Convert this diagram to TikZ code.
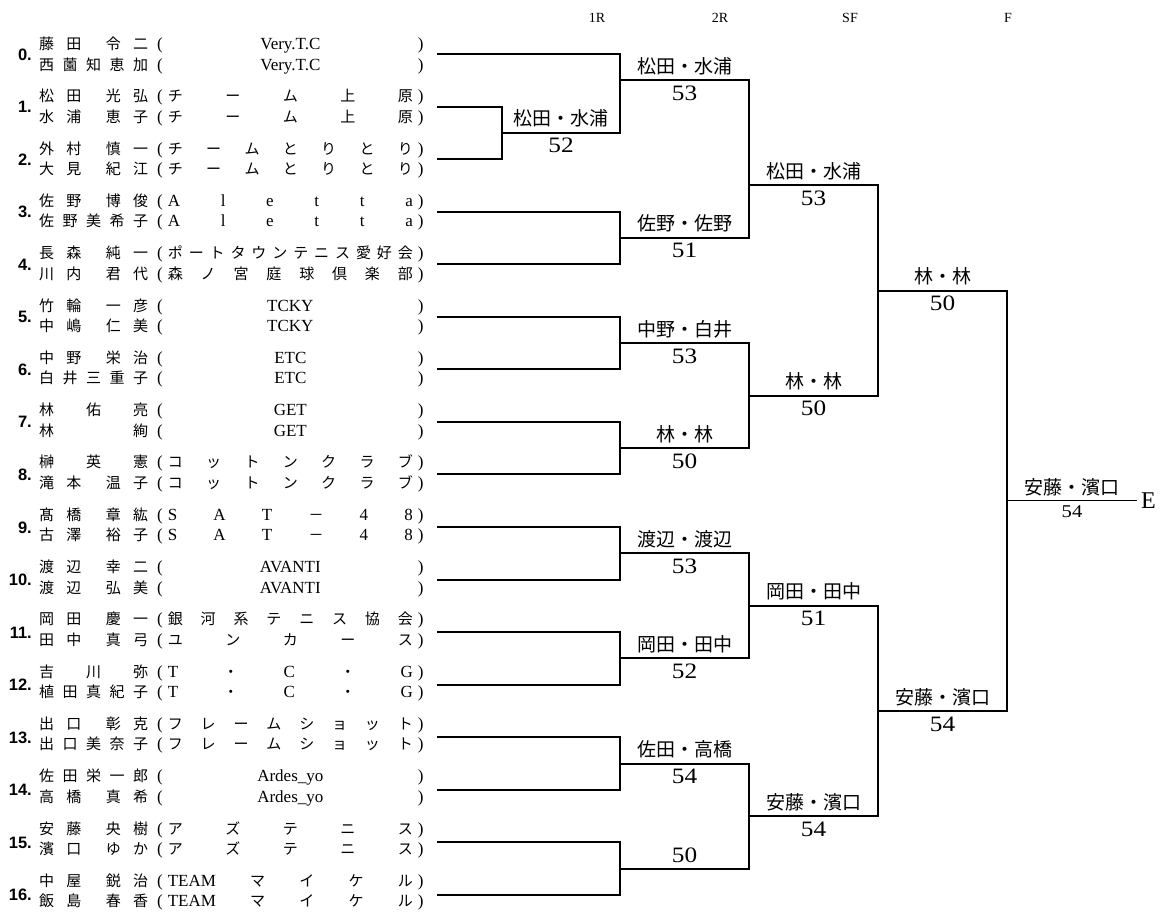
\documentclass[tikz,border=0pt]{standalone}
\usepackage{fontspec}
\setmainfont{Liberation Serif}
\newfontfamily\jp{Noto Sans CJK JP}
\newfontfamily\cifre[FakeStretch=1.15]{Liberation Serif}
\newfontfamily\numeri{Liberation Sans}
\usetikzlibrary{calc}

\newcommand\hf{\hfill}
\newcommand\lat[1]{{\rmfamily\fontsize{17}{17}\selectfont #1}}
\newcommand\riga[2]{\hbox to 109pt{#1}\hskip 9pt\lat{(}\hskip 5pt\hbox to 245pt{#2}\hskip 5pt\lat{)}}
\newcommand\ry[1]{54+52.56*#1}

\tikzset{
  linea/.style={line width=2pt},
  giocatore/.style={font=\jp\fontsize{15}{15}\selectfont, anchor=base west, inner sep=0pt},
  seme/.style={font=\numeri\bfseries\fontsize{16.5}{16.5}\selectfont, anchor=base east, inner sep=0pt},
  vincitore/.style={font=\jp\fontsize{19}{19}\selectfont, anchor=base, inner sep=0pt},
  punti/.style={font=\cifre\fontsize{22}{22}\selectfont, anchor=base, inner sep=0pt},
  turno/.style={font=\fontsize{14}{14}\selectfont, inner sep=0pt},
}

\begin{document}
\begin{tikzpicture}[x=1pt, y=-1pt]

\path[fill=white] (0,0) rectangle (1162,914);
\useasboundingbox (0,0) rectangle (1162,914);

% turni
\node[turno] (r1) at (597,18) {1R};
\node[turno] (r2) at (720,18) {2R};
\node[turno] (r3) at (850,18) {SF};
\node[turno] (r4) at (1008,18) {F};

% coppie iscritte
\foreach \i/\na/\nb/\ta/\tb in {
 0/{藤\hf 田\hf\hf 令\hf 二}/{西\hf 薗\hf 知\hf 恵\hf 加}/{\hf\lat{Very.T.C}\hf}/{\hf\lat{Very.T.C}\hf},
 1/{松\hf 田\hf\hf 光\hf 弘}/{水\hf 浦\hf\hf 恵\hf 子}/{チ\hf ー\hf ム\hf 上\hf 原}/{チ\hf ー\hf ム\hf 上\hf 原},
 2/{外\hf 村\hf\hf 慎\hf 一}/{大\hf 見\hf\hf 紀\hf 江}/{チ\hf ー\hf ム\hf と\hf り\hf と\hf り}/{チ\hf ー\hf ム\hf と\hf り\hf と\hf り},
 3/{佐\hf 野\hf\hf 博\hf 俊}/{佐\hf 野\hf 美\hf 希\hf 子}/{\lat{A\hf l\hf e\hf t\hf t\hf a}}/{\lat{A\hf l\hf e\hf t\hf t\hf a}},
 4/{長\hf 森\hf\hf 純\hf 一}/{川\hf 内\hf\hf 君\hf 代}/{ポ\hf ー\hf ト\hf タ\hf ウ\hf ン\hf テ\hf ニ\hf ス\hf 愛\hf 好\hf 会}/{森\hf ノ\hf 宮\hf 庭\hf 球\hf 倶\hf 楽\hf 部},
 5/{竹\hf 輪\hf\hf 一\hf 彦}/{中\hf 嶋\hf\hf 仁\hf 美}/{\hf\lat{TCKY}\hf}/{\hf\lat{TCKY}\hf},
 6/{中\hf 野\hf\hf 栄\hf 治}/{白\hf 井\hf 三\hf 重\hf 子}/{\hf\lat{ETC}\hf}/{\hf\lat{ETC}\hf},
 7/{林\hf 佑\hf 亮}/{林\hf 絢}/{\hf\lat{GET}\hf}/{\hf\lat{GET}\hf},
 8/{榊\hf 英\hf 憲}/{滝\hf 本\hf\hf 温\hf 子}/{コ\hf ッ\hf ト\hf ン\hf ク\hf ラ\hf ブ}/{コ\hf ッ\hf ト\hf ン\hf ク\hf ラ\hf ブ},
 9/{髙\hf 橋\hf\hf 章\hf 紘}/{古\hf 澤\hf\hf 裕\hf 子}/{\lat{S\hf A\hf T}\hf －\hf\lat{4\hf 8}}/{\lat{S\hf A\hf T}\hf －\hf\lat{4\hf 8}},
 10/{渡\hf 辺\hf\hf 幸\hf 二}/{渡\hf 辺\hf\hf 弘\hf 美}/{\hf\lat{AVANTI}\hf}/{\hf\lat{AVANTI}\hf},
 11/{岡\hf 田\hf\hf 慶\hf 一}/{田\hf 中\hf\hf 真\hf 弓}/{銀\hf 河\hf 系\hf テ\hf ニ\hf ス\hf 協\hf 会}/{ユ\hf ン\hf カ\hf ー\hf ス},
 12/{吉\hf 川\hf 弥}/{植\hf 田\hf 真\hf 紀\hf 子}/{\lat{T}\hf ・\hf\lat{C}\hf ・\hf\lat{G}}/{\lat{T}\hf ・\hf\lat{C}\hf ・\hf\lat{G}},
 13/{出\hf 口\hf\hf 彰\hf 克}/{出\hf 口\hf 美\hf 奈\hf 子}/{フ\hf レ\hf ー\hf ム\hf シ\hf ョ\hf ッ\hf ト}/{フ\hf レ\hf ー\hf ム\hf シ\hf ョ\hf ッ\hf ト},
 14/{佐\hf 田\hf 栄\hf 一\hf 郎}/{高\hf 橋\hf\hf 真\hf 希}/{\hf\lat{Ardes\_yo}\hf}/{\hf\lat{Ardes\_yo}\hf},
 15/{安\hf 藤\hf\hf 央\hf 樹}/{濱\hf 口\hf\hf ゆ\hf か}/{ア\hf ズ\hf テ\hf ニ\hf ス}/{ア\hf ズ\hf テ\hf ニ\hf ス},
 16/{中\hf 屋\hf\hf 鋭\hf 治}/{飯\hf 島\hf\hf 春\hf 香}/{\lat{TEAM}\hf マ\hf イ\hf ケ\hf ル}/{\lat{TEAM}\hf マ\hf イ\hf ケ\hf ル}}
{
  \pgfmathsetmacro\ym{54+52.3*\i}
  \node[giocatore] (a\i) at (39,\ym-4.5) {\riga{\na}{\ta}};
  \node[giocatore] (b\i) at (39,\ym+16) {\riga{\nb}{\tb}};
  \node[seme] (s\i) at (32,{\ry{\i}+6}) {\i.};
  \coordinate (t\i) at (437,{\ry{\i}});
}

% incroci del tabellone
\coordinate (m12)   at (502,{\ry{1.5}});
\coordinate (m0)    at (620,{\ry{0.5}});
\coordinate (m34)   at (620,{\ry{3.5}});
\coordinate (m56)   at (620,{\ry{5.5}});
\coordinate (m78)   at (620,{\ry{7.5}});
\coordinate (m910)  at (620,{\ry{9.5}});
\coordinate (m1112) at (620,{\ry{11.5}});
\coordinate (m1314) at (620,{\ry{13.5}});
\coordinate (m1516) at (620,{\ry{15.5}});
\coordinate (q1) at (749,{\ry{2.5}});
\coordinate (q2) at (749,{\ry{6.5}});
\coordinate (q3) at (749,{\ry{10.5}});
\coordinate (q4) at (749,{\ry{14.5}});
\coordinate (sf1) at (878,{\ry{4.5}});
\coordinate (sf2) at (878,{\ry{12.5}});
\coordinate (fin) at (1007,{\ry{8.5}});
\coordinate (fine) at (1137,{\ry{8.5}});

% primo turno
\draw[linea] (t1) -| (m12) |- (t2);
\draw[linea] (t0) -| (m0) |- (m12);
\draw[linea] (t3) -| (m34) |- (t4);
\draw[linea] (t5) -| (m56) |- (t6);
\draw[linea] (t7) -| (m78) |- (t8);
\draw[linea] (t9) -| (m910) |- (t10);
\draw[linea] (t11) -| (m1112) |- (t12);
\draw[linea] (t13) -| (m1314) |- (t14);
\draw[linea] (t15) -| (m1516) |- (t16);

% secondo turno, semifinali, finale
\draw[linea] (m0) -| (q1) |- (m34);
\draw[linea] (m56) -| (q2) |- (m78);
\draw[linea] (m910) -| (q3) |- (m1112);
\draw[linea] (m1314) -| (q4) |- (m1516);
\draw[linea] (q1) -| (sf1) |- (q2);
\draw[linea] (q3) -| (sf2) |- (q4);
\draw[linea] (sf1) -| (fin) |- (sf2);
\draw[line width=1.3pt] (fin) -- (fine);

% vincitori e punteggi
\node[vincitore] (v12) at (561,{\ry{1.5}-7}) {松田・水浦};
\node[punti] (p12) at (561,{\ry{1.5}+20}) {52};

\node[vincitore] (v0) at (684.5,{\ry{0.5}-7}) {松田・水浦};
\node[punti] (p0) at (684.5,{\ry{0.5}+20}) {53};
\node[vincitore] (v34) at (684.5,{\ry{3.5}-7}) {佐野・佐野};
\node[punti] (p34) at (684.5,{\ry{3.5}+20}) {51};
\node[vincitore] (v56) at (684.5,{\ry{5.5}-7}) {中野・白井};
\node[punti] (p56) at (684.5,{\ry{5.5}+20}) {53};
\node[vincitore] (v78) at (684.5,{\ry{7.5}-7}) {林・林};
\node[punti] (p78) at (684.5,{\ry{7.5}+20}) {50};
\node[vincitore] (v910) at (684.5,{\ry{9.5}-7}) {渡辺・渡辺};
\node[punti] (p910) at (684.5,{\ry{9.5}+20}) {53};
\node[vincitore] (v1112) at (684.5,{\ry{11.5}-7}) {岡田・田中};
\node[punti] (p1112) at (684.5,{\ry{11.5}+20}) {52};
\node[vincitore] (v1314) at (684.5,{\ry{13.5}-7}) {佐田・高橋};
\node[punti] (p1314) at (684.5,{\ry{13.5}+20}) {54};
\node[punti] (p1516) at (684.5,{\ry{15.5}-6}) {50};

\node[vincitore] (vq1) at (813.5,{\ry{2.5}-7}) {松田・水浦};
\node[punti] (pq1) at (813.5,{\ry{2.5}+20}) {53};
\node[vincitore] (vq2) at (813.5,{\ry{6.5}-7}) {林・林};
\node[punti] (pq2) at (813.5,{\ry{6.5}+20}) {50};
\node[vincitore] (vq3) at (813.5,{\ry{10.5}-7}) {岡田・田中};
\node[punti] (pq3) at (813.5,{\ry{10.5}+20}) {51};
\node[vincitore] (vq4) at (813.5,{\ry{14.5}-7}) {安藤・濱口};
\node[punti] (pq4) at (813.5,{\ry{14.5}+20}) {54};

\node[vincitore] (vs1) at (942.5,{\ry{4.5}-7}) {林・林};
\node[punti] (ps1) at (942.5,{\ry{4.5}+20}) {50};
\node[vincitore] (vs2) at (942.5,{\ry{12.5}-7}) {安藤・濱口};
\node[punti] (ps2) at (942.5,{\ry{12.5}+20}) {54};

\node[vincitore] (vf) at (1072,{\ry{8.5}-6}) {安藤・濱口};
\node[punti, font=\cifre\fontsize{18}{18}\selectfont] (pf) at (1072,{\ry{8.5}+17}) {54};
\node[anchor=west, inner sep=0pt, font=\fontsize{24}{24}\selectfont] (e) at ([xshift=4pt]fine) {E};

\end{tikzpicture}
\end{document}
